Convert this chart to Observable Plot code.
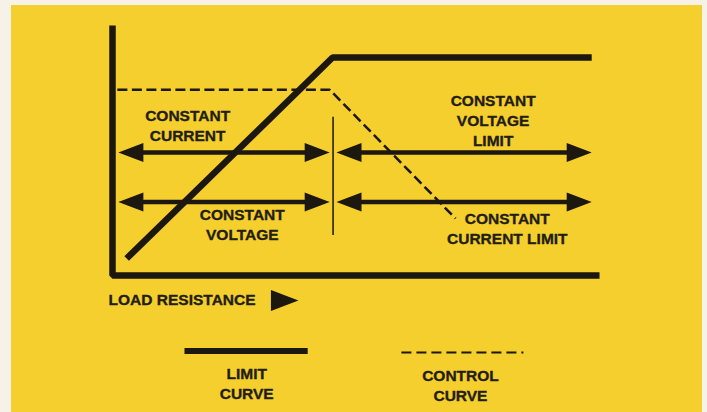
<!DOCTYPE html>
<html><head><meta charset="utf-8">
<script src="https://cdn.jsdelivr.net/npm/d3@7"></script>
<script src="https://cdn.jsdelivr.net/npm/@observablehq/plot@0.6"></script>
<style>
html,body{margin:0;padding:0;background:#f6f2e7;width:707px;height:412px;overflow:hidden;}
#bg{position:absolute;left:11px;top:5px;width:691px;height:407px;background:#f4cf2e;}
#chart{position:absolute;left:0;top:0;}
</style></head><body><div id="bg"></div><div id="chart"></div>
<script>
// Frame (axes) of the diagram: load resistance (x) vs output (y), arbitrary 0-100 units
const axisX = [0, 0, 99.8];
const axisY = [100, 0, 0];

// Limit curve (solid)
const limitX = [2.9, 45.1, 98.2];
const limitY = [6.8, 87.2, 87.2];

// Control curve (dashed)
const controlX = [1.0, 44.5, 70.3];
const controlY = [74.3, 74.3, 22.8];

// Crossover divider (thin vertical)
const dividerX = 45.2;
const dividerY = [16.0, 63.3];

// Double-headed region arrows: two rows, each with a left and right span
const arrowRows = [49.2, 29.4];
const spanStart = [1.2, 45.9];
const spanEnd = [44.5, 98.2];

// Region labels
const labels = ["CONSTANT\nCURRENT", "CONSTANT\nVOLTAGE\nLIMIT", "CONSTANT\nVOLTAGE", "CONSTANT\nCURRENT LIMIT"];
const labelX = [15.4, 78.0, 26.6, 80.9];
const labelY = [60.4, 62.4, 20.6, 19.2];

// Axis title
const xTitle = "LOAD RESISTANCE";
const xTitlePos = [-0.8, -10];
const xTitleArrow = [38.1, -10];

// Legend
const legendNames = ["LIMIT\nCURVE", "CONTROL\nCURVE"];
const legendX1 = [14.75, 59.2];
const legendX2 = [40.0, 84.2];
const legendLineY = [-30.2, -30.8];
const legendTextX = [27.5, 71.3];
const legendTextY = [-42.8, -43.8];

const ink = "#1c170f";
const textInk = "#231d12";

// filled triangular arrowhead, tip at origin pointing right
const head = {draw(context, size) {
  const r = Math.sqrt(size / Math.PI);
  const L = 2.5 * r, W = 0.95 * r;
  context.moveTo(0, 0);
  context.lineTo(-L, -W);
  context.lineTo(-L, W);
  context.closePath();
}};

const spans = [];
arrowRows.forEach(y => spanStart.forEach((s, i) => spans.push({x1: s, x2: spanEnd[i], y})));
const heads = [];
spans.forEach(d => {
  heads.push({x: d.x1, y: d.y, rot: 180});
  heads.push({x: d.x2, y: d.y, rot: 0});
});

const textStyle = {fill: textInk, fontWeight: "bold", fontSize: 15.5, stroke: textInk, strokeWidth: 0.35};

const chart = Plot.plot({
  width: 707,
  height: 412,
  marginLeft: 112,
  marginRight: 107,
  marginTop: 25,
  marginBottom: 137,
  x: {domain: [0, 100], axis: null},
  y: {domain: [0, 100], axis: null},
  style: {background: "transparent", fontFamily: "'Liberation Sans', Arial, sans-serif", fontWeight: "bold", fontSize: "15.5px", color: textInk, overflow: "visible"},
  marks: [
    Plot.line(axisX.map((x, i) => ({x, y: axisY[i]})), {x: "x", y: "y", stroke: ink, strokeWidth: 6.5, strokeLinejoin: "miter", strokeLinecap: "butt"}),
    Plot.line(controlX.map((x, i) => ({x, y: controlY[i]})), {x: "x", y: "y", stroke: ink, strokeWidth: 2.5, strokeDasharray: "10,4.5", strokeLinecap: "butt"}),
    Plot.line(limitX.map((x, i) => ({x, y: limitY[i]})), {x: "x", y: "y", stroke: ink, strokeWidth: 6.5, strokeLinejoin: "miter", strokeLinecap: "butt"}),
    Plot.ruleX([dividerX], {y1: dividerY[0], y2: dividerY[1], stroke: ink, strokeWidth: 1.5}),
    Plot.arrow(spans, {x1: "x1", x2: "x2", y1: "y", y2: "y", headLength: 0, inset: 12, stroke: ink, strokeWidth: 4.5}),
    Plot.dot(heads, {x: "x", y: "y", rotate: "rot", symbol: head, r: 10, fill: ink, stroke: null}),
    Plot.text(labels, {x: (d, i) => labelX[i], y: (d, i) => labelY[i], text: d => d, lineHeight: 1.29, ...textStyle}),
    Plot.text([xTitle], {x: xTitlePos[0], y: xTitlePos[1], text: d => d, textAnchor: "start", ...textStyle}),
    Plot.dot([xTitleArrow], {x: d => d[0], y: d => d[1], symbol: head, r: 11, fill: ink, stroke: null}),
    Plot.link([legendNames[0]], {x1: legendX1[0], x2: legendX2[0], y1: legendLineY[0], y2: legendLineY[0], stroke: ink, strokeWidth: 6}),
    Plot.link([legendNames[1]], {x1: legendX1[1], x2: legendX2[1], y1: legendLineY[1], y2: legendLineY[1], stroke: ink, strokeWidth: 2, strokeDasharray: "10,5"}),
    Plot.text(legendNames, {x: (d, i) => legendTextX[i], y: (d, i) => legendTextY[i], text: d => d, lineHeight: 1.29, ...textStyle})
  ]
});
document.getElementById("chart").appendChild(chart);
</script>
</body></html>
